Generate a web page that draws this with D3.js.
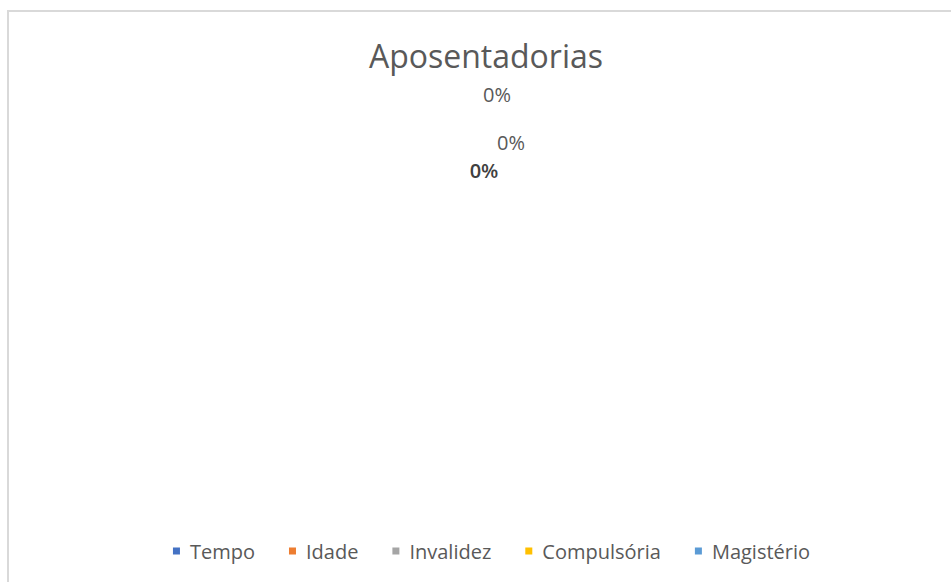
<!doctype html>
<meta charset="utf-8" />
<style>
    body { margin: 0; background: #fff; }
    text { font-family: "Open Sans", "Noto Sans", sans-serif; }
</style>
<svg></svg>
<script src="https://cdn.jsdelivr.net/npm/d3@7"></script>
<script>
    var categories = ['Tempo', 'Idade', 'Invalidez', 'Compulsória', 'Magistério'];
    var values = [0, 0, 0, 0, 0];
    var colors = ['#4472C4', '#ED7D31', '#A5A5A5', '#FFC000', '#5B9BD5'];
    var title = 'Aposentadorias';

    // where excel dropped the (overlapping) labels of the empty slices
    var labelPos = [[497, 95], [511, 143], [484, 171], [484, 171], [497, 95]];

    var width = 951, height = 582;
    var svg = d3.select('svg')
        .attr('width', width)
        .attr('height', height);

    // chart frame
    svg.append('rect')
        .attr('x', 8)
        .attr('y', 11)
        .attr('width', 960)
        .attr('height', 600)
        .style('fill', 'white')
        .style('stroke', '#d9d9d9')
        .style('stroke-width', 2);

    svg.append('text')
        .attr('x', 486)
        .attr('y', 68)
        .attr('text-anchor', 'middle')
        .style('font-size', '32px')
        .style('fill', '#595959')
        .text(title);

    var total = d3.sum(values);
    var pie = d3.pie().sort(null)(values);
    var arc = d3.arc().innerRadius(0).outerRadius(200);

    var g = svg.append('g').attr('transform', 'translate(486,330)');
    g.selectAll('path')
        .data(pie)
        .join('path')
        .attr('d', arc)
        .style('fill', (d, i) => colors[i]);

    // labels that land on the same spot are only drawn once
    var seen = {};
    var labels = pie.filter(function (d, i) {
        var k = labelPos[i].join(',');
        if (seen[k]) return false;
        seen[k] = true;
        d.pos = labelPos[i];
        d.bold = i === 2;
        return true;
    });

    svg.selectAll('.lbl')
        .data(labels)
        .join('text')
        .attr('class', 'lbl')
        .attr('x', d => d.pos[0])
        .attr('y', d => d.pos[1] + 7)
        .attr('text-anchor', 'middle')
        .style('font-size', '20px')
        .style('font-weight', d => d.bold ? 600 : 'normal')
        .style('fill', d => d.bold ? '#404040' : '#595959')
        .text(d => d3.format('.0%')(total ? d.value / total : 0));

    // legend
    var leg = svg.append('g');
    var x = 0;
    categories.forEach(function (c, i) {
        var it = leg.append('g').attr('transform', 'translate(' + x + ',0)');
        it.append('rect')
            .attr('x', 0).attr('y', -3.5)
            .attr('width', 7).attr('height', 7)
            .style('fill', colors[i]);
        var t = it.append('text')
            .attr('x', 17)
            .attr('y', 8)
            .style('font-size', '20px')
            .style('fill', '#595959')
            .text(c);
        x += 17 + t.node().getComputedTextLength() + 34;
    });
    var lw = x - 34;
    leg.attr('transform', 'translate(' + (491.5 - lw / 2) + ',551)');
</script>
